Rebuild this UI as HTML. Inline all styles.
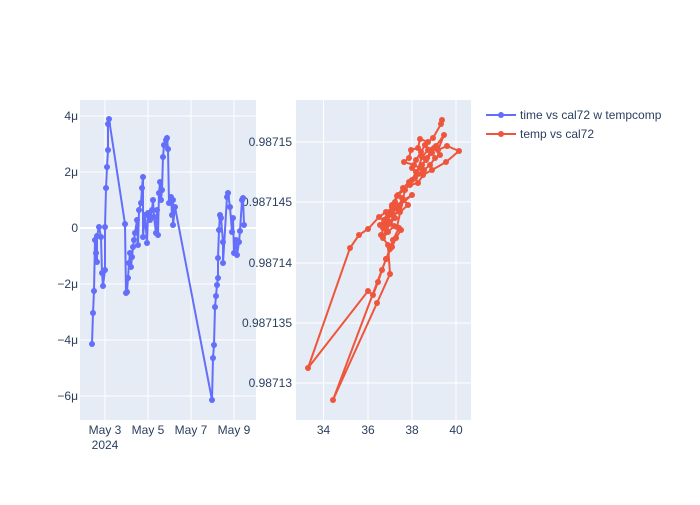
<!DOCTYPE html>
<html><head><style>body{margin:0;background:#fff}svg{font-family:"Liberation Sans",sans-serif}</style></head><body>
<svg width="700" height="500" xmlns="http://www.w3.org/2000/svg">
<rect width="700" height="500" fill="#fff"/>
<rect x="80" y="100" width="176" height="320" fill="#e5ecf6"/>
<rect x="296" y="100" width="175" height="320" fill="#e5ecf6"/>
<g stroke="#fff" stroke-width="1">
<line x1="80" x2="256" y1="116" y2="116"/><line x1="80" x2="256" y1="172" y2="172"/><line x1="80" x2="256" y1="228" y2="228" stroke-width="2"/><line x1="80" x2="256" y1="284" y2="284"/><line x1="80" x2="256" y1="340" y2="340"/><line x1="80" x2="256" y1="396" y2="396"/>
<line x1="105" x2="105" y1="100" y2="420"/><line x1="148" x2="148" y1="100" y2="420"/><line x1="191" x2="191" y1="100" y2="420"/><line x1="234" x2="234" y1="100" y2="420"/>
<line x1="296" x2="471" y1="142" y2="142"/><line x1="296" x2="471" y1="202" y2="202"/><line x1="296" x2="471" y1="263" y2="263"/><line x1="296" x2="471" y1="323" y2="323"/><line x1="296" x2="471" y1="383" y2="383"/>
<line x1="323.5" x2="323.5" y1="100" y2="420"/><line x1="368" x2="368" y1="100" y2="420"/><line x1="412" x2="412" y1="100" y2="420"/><line x1="456" x2="456" y1="100" y2="420"/>
</g>
<g font-size="12" fill="#2a3f5f" text-anchor="end">
<text x="78" y="120">4μ</text><text x="78" y="176">2μ</text><text x="78" y="232">0</text><text x="78" y="288">−2μ</text><text x="78" y="344">−4μ</text><text x="78" y="400">−6μ</text>
<text x="292" y="146">0.98715</text><text x="292" y="206">0.987145</text><text x="292" y="267">0.98714</text><text x="292" y="327">0.987135</text><text x="292" y="387">0.98713</text>
</g>
<g font-size="12" fill="#2a3f5f" text-anchor="middle">
<text x="105" y="434">May 3</text><text x="148" y="434">May 5</text><text x="191" y="434">May 7</text><text x="234" y="434">May 9</text>
<text x="105" y="449">2024</text>
<text x="323.5" y="434">34</text><text x="368" y="434">36</text><text x="412" y="434">38</text><text x="456" y="434">40</text>
</g>
<polyline id="p1" fill="none" stroke="#636efa" stroke-width="2" points="92,344 93,313 94,291 95,240 96,253 97,262 97,236 99,227 101,237 102,273 103,286 105,270 105,227 106,188 107,167 108,150 108,124 109,119 125,224 126,293 127,292 128,278 129,263 130,253 131,267 132,257 133,247 134,240 135,233 137,220 138,245 139,210 141,203 142,188 143,177 143,237 145,215 147,243 148,213 150,220 152,210 153,200 154,217 156,233 157,210 158,235 159,193 160,182 161,200 162,190 163,157 164,145 166,140 167,138 168,149 169,203 171,197 172,215 173,200 173,225 175,207 212,400 213,358 214,345 215,307 216,296 217,285 218,278 218,258 219,230 220,215 221,218 223,242 223,263 227,197 228,193 230,207 232,232 233,218 234,253 236,240 237,255 239,242 240,231 242,200 243,198 244,225"/>
<polyline id="p2" fill="none" stroke="#ef553b" stroke-width="2" points="442,120 441,124 433,138 428,142 420,139 418,148 411,150 409,158 404,162 414,165 420,168 426,160 432,153 436,146 444,135 438,150 447,146 459,151 446,162 432,170 423,175 418,183 410,185 404,190 398,195 395,202 392,207 388,214 384,220 380,225 392,215 400,212 408,205 402,198 398,210 390,222 386,228 383,238 388,232 394,226 399,228 393,240 390,249 386,259 382,270 378,282 373,295 368,291 308,368 350,248 359,235 368,229 379,217 386,212 396,206 404,200 412,195 400,205 392,212 385,225 381,235 388,245 390,274 377,303 333,400 386,259 392,247 396,238 401,230 397,227 405,190 412,180 416,172 422,165 427,158 431,150 425,145 421,152 416,160 412,168 418,174 424,170 430,165 435,158 440,155 434,148 428,150 422,157 415,178 409,182 403,188 397,196 392,205 387,218 383,228 389,224 395,218"/>
<g id="m1" fill="#636efa"></g><g id="m2" fill="#ef553b"></g>
<g font-size="12" fill="#2a3f5f">
<line x1="486" x2="516" y1="115" y2="115" stroke="#636efa" stroke-width="2"/><circle cx="501" cy="115" r="3" fill="#636efa"/>
<text x="520" y="119">time vs cal72 w tempcomp</text>
<line x1="486" x2="516" y1="134" y2="134" stroke="#ef553b" stroke-width="2"/><circle cx="501" cy="134" r="3" fill="#ef553b"/>
<text x="520" y="138">temp vs cal72</text>
</g>
</svg>
<script>
function m(pid,gid){var p=document.getElementById(pid).getAttribute('points').trim().split(/\s+/),g=document.getElementById(gid);
p.forEach(function(s){var a=s.split(','),c=document.createElementNS('http://www.w3.org/2000/svg','circle');c.setAttribute('cx',a[0]);c.setAttribute('cy',a[1]);c.setAttribute('r','3');g.appendChild(c);});}
m('p1','m1');m('p2','m2');
</script>
</body></html>
